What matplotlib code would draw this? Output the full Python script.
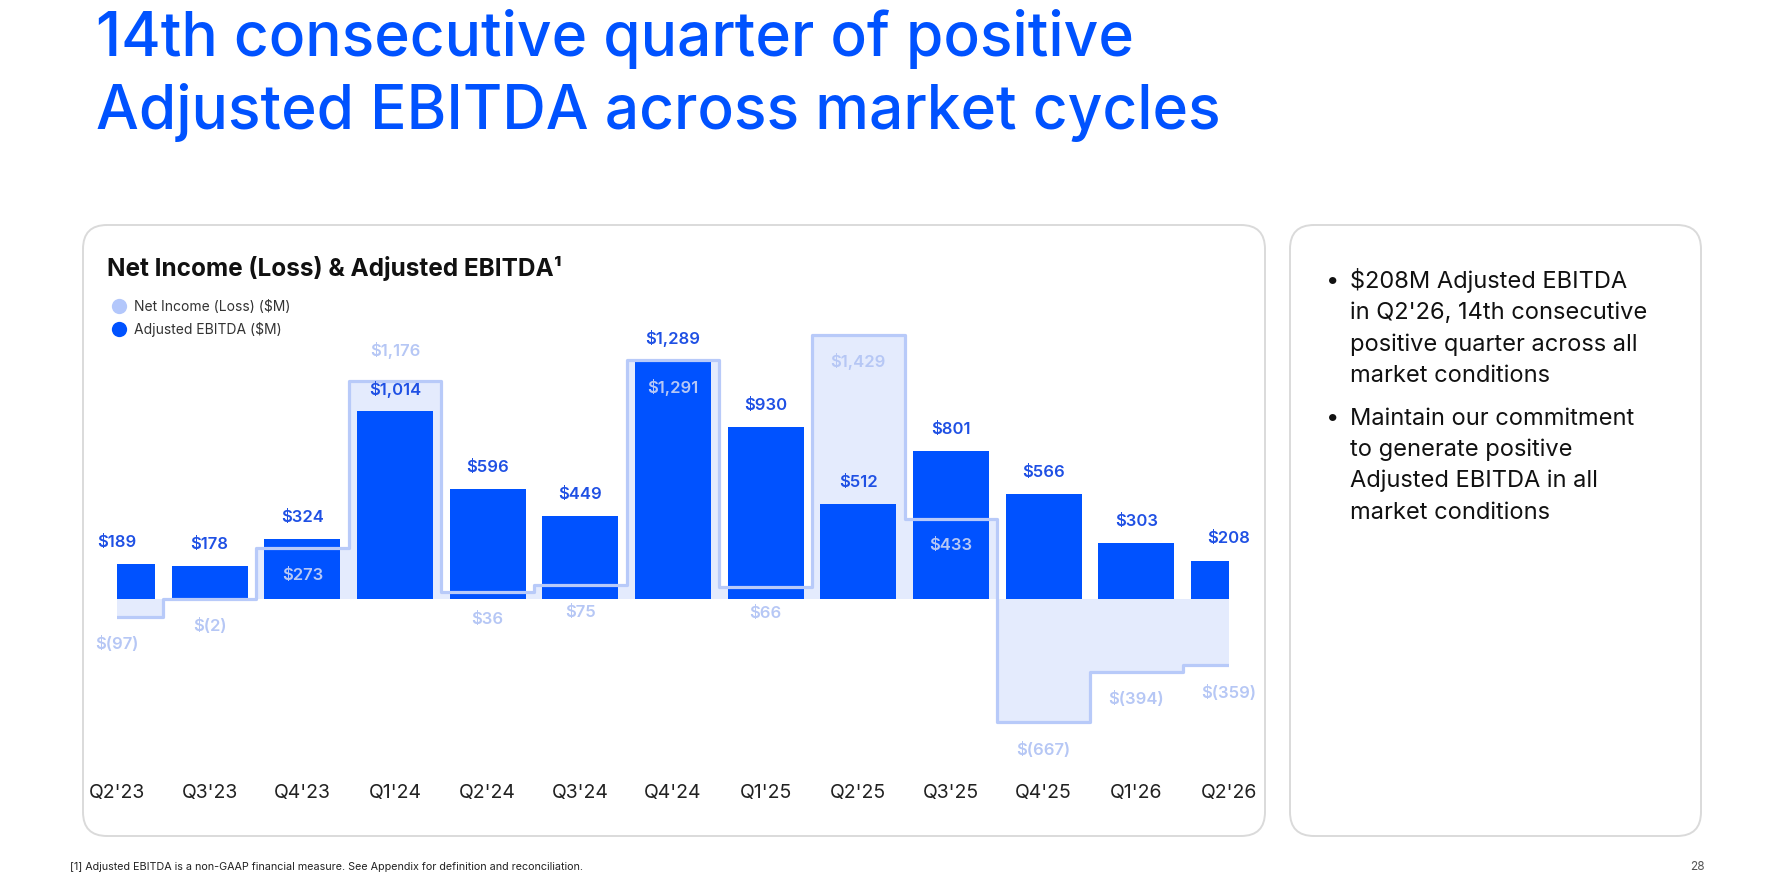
import matplotlib
matplotlib.use("Agg")
import matplotlib.pyplot as plt
from matplotlib.patches import FancyBboxPatch
from matplotlib.lines import Line2D

# ---------------- data ----------------
quarters = ["Q2'23", "Q3'23", "Q4'23", "Q1'24", "Q2'24", "Q3'24", "Q4'24",
            "Q1'25", "Q2'25", "Q3'25", "Q4'25", "Q1'26", "Q2'26"]
net_income = [-97, -2, 273, 1176, 36, 75, 1291, 66, 1429, 433, -667, -394, -359]
adj_ebitda = [189, 178, 324, 1014, 596, 449, 1289, 930, 512, 801, 566, 303, 208]
ni_label_side = ["below", "below", "below", "above", "below", "below", "below",
                 "below", "below", "below", "below", "below", "below"]

title_lines = ["14th consecutive quarter of positive",
               "Adjusted EBITDA across market cycles"]
chart_title = "Net Income (Loss) & Adjusted EBITDA\u00b9"
legend_labels = ["Net Income (Loss) ($M)", "Adjusted EBITDA ($M)"]
bullets = [
    ["$208M Adjusted EBITDA", "in Q2'26, 14th consecutive",
     "positive quarter across all", "market conditions"],
    ["Maintain our commitment", "to generate positive",
     "Adjusted EBITDA in all", "market conditions"],
]
footnote = ("[1] Adjusted EBITDA is a non-GAAP financial measure. "
            "See Appendix for definition and reconciliation.")
page_no = "28"

# ---------------- style ----------------
FONT = ["Inter", "DejaVu Sans"]
plt.rcParams["font.family"] = FONT
BLUE = "#0052ff"
EB_LABEL = "#1f50e4"
NI_FILL = "#e4ebfd"
NI_LINE = "#b8caf9"
NI_LABEL = "#b6c7f5"
CARD_EDGE = "#dadada"

W, H = 1767, 889
fig = plt.figure(figsize=(W / 100, H / 100), dpi=100)
fig.patch.set_facecolor("white")

# background / layout axes in pixel coordinates
bg = fig.add_axes([0, 0, 1, 1], zorder=0)
bg.set_xlim(0, W)
bg.set_ylim(H, 0)
bg.axis("off")

for (x0, y0, x1, y1) in [(83, 225, 1265, 836), (1290, 225, 1701, 836)]:
    bg.add_patch(FancyBboxPatch((x0, y0), x1 - x0, y1 - y0,
                                boxstyle="round,pad=0,rounding_size=24",
                                facecolor="white", edgecolor=CARD_EDGE, lw=1.4))

# slide title
for i, line in enumerate(title_lines):
    bg.text(96, 56 + i * 73, line, fontsize=43.5, color=BLUE, fontweight="medium",
            va="baseline", ha="left")

# chart title
bg.text(107, 276, chart_title, fontsize=17.5, fontweight="bold", color="#111111",
        va="baseline", ha="left")

# right panel bullets
y = 288
for para in bullets:
    bg.text(1333, y - 7, "\u2022", fontsize=17, color="#111111", va="center", ha="center")
    for line in para:
        bg.text(1350, y, line, fontsize=17, color="#111111", va="baseline", ha="left")
        y += 31.3
    y += 11.5

bg.text(70, 870, footnote, fontsize=7.75, color="#222222", va="baseline", ha="left")
bg.text(1705, 870, page_no, fontsize=8.5, color="#555555", va="baseline", ha="right")

# ---------------- chart ----------------
ax = fig.add_axes([117 / W, (H - 760) / H, 1112 / W, 480 / H], zorder=1)
ax.patch.set_alpha(0)
x = list(range(len(quarters)))

ax.fill_between(x, net_income, 0, step="mid", color=NI_FILL, lw=0, zorder=1)
ax.bar(x, adj_ebitda, width=0.82, color=BLUE, zorder=2)
ax.step(x, net_income, where="mid", color=NI_LINE, lw=2.3, zorder=3)

ax.set_xlim(0, len(quarters) - 1)
ax.set_ylim(-870, 1724)


def money(v):
    return f"${v:,}" if v >= 0 else f"$({-v:,})"


for xi, eb, ni, side in zip(x, adj_ebitda, net_income, ni_label_side):
    ax.annotate(money(eb), (xi, eb), xytext=(0, 15.5), textcoords="offset points",
                ha="center", va="center", fontsize=12, fontweight="semibold",
                color=EB_LABEL, zorder=5, annotation_clip=False)
    dy = 22.5 if side == "above" else -19.5
    ax.annotate(money(ni), (xi, ni), xytext=(0, dy), textcoords="offset points",
                ha="center", va="center", fontsize=12, fontweight="semibold",
                color=NI_LABEL, zorder=5, annotation_clip=False)

ax.set_xticks(x, quarters)
ax.tick_params(axis="x", length=0, pad=17, labelsize=14, labelcolor="#222222")
ax.set_yticks([])
for s in ax.spines.values():
    s.set_visible(False)

# legend
handles = [Line2D([], [], marker="o", ls="none", markersize=11,
                  markerfacecolor="#b3c7fb", markeredgecolor="none"),
           Line2D([], [], marker="o", ls="none", markersize=11,
                  markerfacecolor=BLUE, markeredgecolor="none")]
fig.legend(handles, legend_labels, loc="upper left",
           bbox_to_anchor=(113 / W, 1 - 300 / H), frameon=False, fontsize=10,
           labelcolor="#333333", handlelength=0.9, handletextpad=0.6,
           labelspacing=0.55, borderpad=0, borderaxespad=0)

fig.savefig("out.png", dpi=100, facecolor="white")
